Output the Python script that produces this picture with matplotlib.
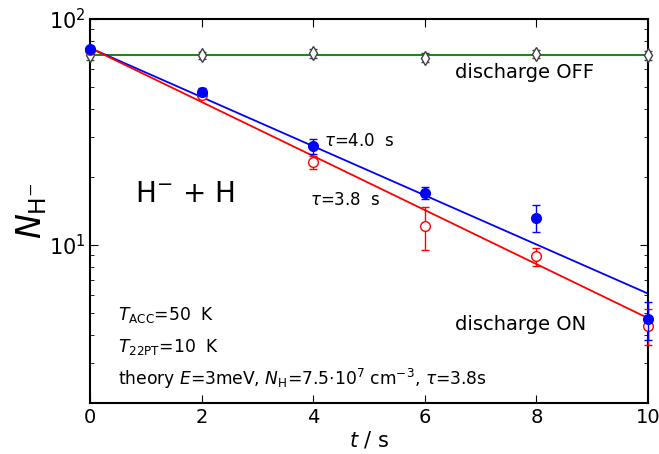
import numpy as np
import matplotlib
matplotlib.use('Agg')
import matplotlib.pyplot as plt
from matplotlib.ticker import LogLocator, NullFormatter

t = [0, 2, 4, 6, 8, 10]
n_off = [69, 69, 70.5, 67.5, 70, 69]
n_off_err = [3, 2.5, 3, 3, 3, 3]
n_on_a = [74, 47.5, 27.4, 17.0, 13.2, 4.7]   # blue, filled
n_on_a_err = [2, 2, 2, 1, 1.8, 0.9]
n_on_b = [73, 46, 23.3, 12.1, 8.9, 4.4]      # red, open
n_on_b_err = [1.5, 1.2, 1.5, 2.6, 0.8, 0.8]

# fitted lines, values at t=0 and t=10
fit_t = [0, 10]
fit_off = [69.3, 69.3]
fit_a = [74.5, 6.1]
fit_b = [74.5, 4.75]

fig = plt.figure(figsize=(6.59, 4.54), dpi=100)
ax = fig.add_axes([0.1366, 0.1123, 0.8467, 0.8457])

ax.plot(fit_t, fit_off, color='g', lw=1.3)
ax.plot(fit_t, fit_a, color='b', lw=1.3)
ax.plot(fit_t, fit_b, color='r', lw=1.3)

ax.errorbar(t, n_off, yerr=n_off_err, fmt='d', mfc='white', mec='0.25',
            ecolor='0.25', ms=7.5, mew=1.0, capsize=3, elinewidth=1.0, clip_on=False, zorder=3)
ax.errorbar(t, n_on_b, yerr=n_on_b_err, fmt='o', mfc='white', mec='r',
            ecolor='r', ms=7, mew=1.0, capsize=3, elinewidth=1.0, clip_on=False, zorder=3)
ax.errorbar(t, n_on_a, yerr=n_on_a_err, fmt='o', mfc='b', mec='b',
            ecolor='b', ms=7, mew=1.0, capsize=3, elinewidth=1.0, clip_on=False, zorder=4)

ax.set_yscale('log')
ax.set_xlim(0, 10)
ax.set_ylim(2, 100)
ax.set_xticks([0, 2, 4, 6, 8, 10])
ax.yaxis.set_major_locator(LogLocator(base=10))
ax.yaxis.set_minor_locator(LogLocator(base=10, subs=np.arange(2, 10)))
ax.yaxis.set_minor_formatter(NullFormatter())
ax.tick_params(which='both', direction='in', top=True, right=True, labelsize=15)
ax.tick_params(axis='x', labelsize=14)
ax.tick_params(which='major', length=6)
ax.tick_params(which='minor', length=3)
for s in ax.spines.values():
    s.set_linewidth(1.5)

ax.set_xlabel(r'$t$ / s', fontsize=15, labelpad=2)
ax.set_ylabel(r'$N_{\mathrm{H}^{-}}$', fontsize=24, labelpad=0)

ax.text(0.8, 15.5, r'H$^{-}$ + H', fontsize=20)
ax.text(4.2, 27.5, r'$\tau$=4.0  s', fontsize=12)
ax.text(3.95, 15.0, r'$\tau$=3.8  s', fontsize=12)
ax.text(6.55, 55, 'discharge OFF', fontsize=14)
ax.text(6.55, 4.2, 'discharge ON', fontsize=14)
ax.text(0.5, 4.66, r'$T_{\mathrm{ACC}}$=50  K', fontsize=12.3)
ax.text(0.5, 3.37, r'$T_{\mathrm{22PT}}$=10  K', fontsize=12.3)
ax.text(0.5, 2.40, r'theory $E$=3meV, $N_{\mathrm{H}}$=7.5$\cdot$10$^{7}$ cm$^{-3}$, $\tau$=3.8s', fontsize=12.3)

fig.savefig('out.png', dpi=100)
